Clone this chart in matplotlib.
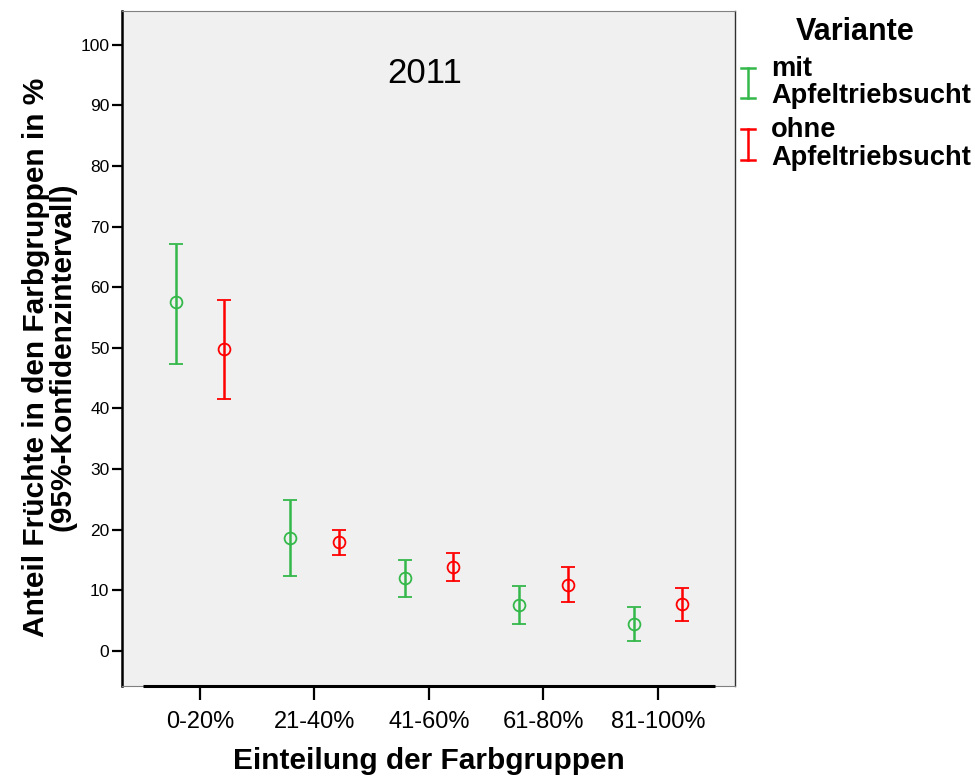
import matplotlib
matplotlib.use("Agg")
import matplotlib.pyplot as plt
import numpy as np
from matplotlib.lines import Line2D
from matplotlib.legend_handler import HandlerBase

plt.rcParams['font.family'] = ['Liberation Sans', 'DejaVu Sans']

groups = ['0-20%', '21-40%', '41-60%', '61-80%', '81-100%']
variants = ['mit\nApfeltriebsucht', 'ohne\nApfeltriebsucht']

mit_mean = [57.5, 18.6, 12.0, 7.6, 4.4]
mit_low = [47.4, 12.4, 8.9, 4.5, 1.6]
mit_high = [67.2, 24.9, 15.0, 10.7, 7.3]

ohne_mean = [49.8, 17.9, 13.9, 10.9, 7.7]
ohne_low = [41.6, 15.8, 11.5, 8.0, 4.9]
ohne_high = [57.9, 20.0, 16.2, 13.9, 10.3]

year = '2011'
colors = ['#34b84a', '#ff0000']

fig = plt.figure(figsize=(9.75, 7.78), dpi=100)
ax = fig.add_axes([0.1251, 0.1183, 0.6287, 0.8676])
ax.set_facecolor('#f0f0f0')

x = np.arange(len(groups))
offset = 0.21
series = [(mit_mean, mit_low, mit_high), (ohne_mean, ohne_low, ohne_high)]
for i, (mean, low, high) in enumerate(series):
    mean = np.array(mean)
    yerr = [mean - np.array(low), np.array(high) - mean]
    pos = x + (i * 2 - 1) * offset
    ax.errorbar(pos, mean, yerr=yerr, fmt='o', color=colors[i], mfc='none',
                mec=colors[i], ms=8.5, mew=1.3, elinewidth=1.8,
                capsize=4.8, capthick=1.8, zorder=3)

ax.set_xlim(-0.681, 4.672)
ax.set_ylim(-5.8, 105.6)
ax.set_yticks(np.arange(0, 101, 10))
ax.set_xticks(x)
ax.set_xticklabels(groups, fontsize=17)
ax.tick_params(axis='y', labelsize=12.5, length=7, width=1.6, direction='out', pad=2)
ax.tick_params(axis='x', length=10, width=1.6, direction='out', pad=8)

for side in ['top', 'bottom']:
    ax.spines[side].set_color('#808080')
    ax.spines[side].set_linewidth(0.8)
ax.spines['right'].set_color('#303030')
ax.spines['right'].set_linewidth(1.0)
ax.spines['left'].set_color('black')
ax.spines['left'].set_linewidth(1.8)
# category axis line spans the categories only
ax.plot([-0.5, 4.5], [-5.8, -5.8], color='black', lw=2.2, clip_on=False,
        solid_capstyle='butt', zorder=5)

ax.text(1.96, 95.2, year, fontsize=25, ha='center', va='center')

ax.set_xlabel('Einteilung der Farbgruppen', fontsize=21.5, fontweight='bold',
              labelpad=10)
ax.set_ylabel('Anteil Früchte in den Farbgruppen in %\n(95%-Konfidenzintervall)',
              fontsize=21.5, fontweight='bold', linespacing=0.95)
ax.yaxis.set_label_coords(-0.074, 0.487)


class IBeamHandler(HandlerBase):
    def create_artists(self, legend, orig_handle, xdescent, ydescent, width,
                       height, fontsize, trans):
        c = orig_handle.get_color()
        cx = width * 0.3 - xdescent
        h = height * 1.6
        y0 = height / 2 - ydescent - h / 2
        y1 = y0 + h
        cw = 5
        arts = [
            Line2D([cx, cx], [y0, y1], color=c, lw=1.8),
            Line2D([cx - cw, cx + cw], [y0, y0], color=c, lw=1.8),
            Line2D([cx - cw, cx + cw], [y1, y1], color=c, lw=1.8),
        ]
        for a in arts:
            a.set_transform(trans)
        return arts


handles = [Line2D([], [], color=c) for c in colors]
leg = fig.legend(handles, variants, loc='upper left',
                 bbox_to_anchor=(0.739, 1.002), frameon=False,
                 title='Variante', handler_map={Line2D: IBeamHandler()},
                 prop={'weight': 'bold', 'size': 19.6},
                 title_fontproperties={'weight': 'bold', 'size': 22},
                 handlelength=1.0, handletextpad=0.15, labelspacing=0.3,
                 borderpad=0.2)
for t in leg.get_texts():
    t.set_linespacing(1.08)

fig.savefig('out.png', dpi=100)
